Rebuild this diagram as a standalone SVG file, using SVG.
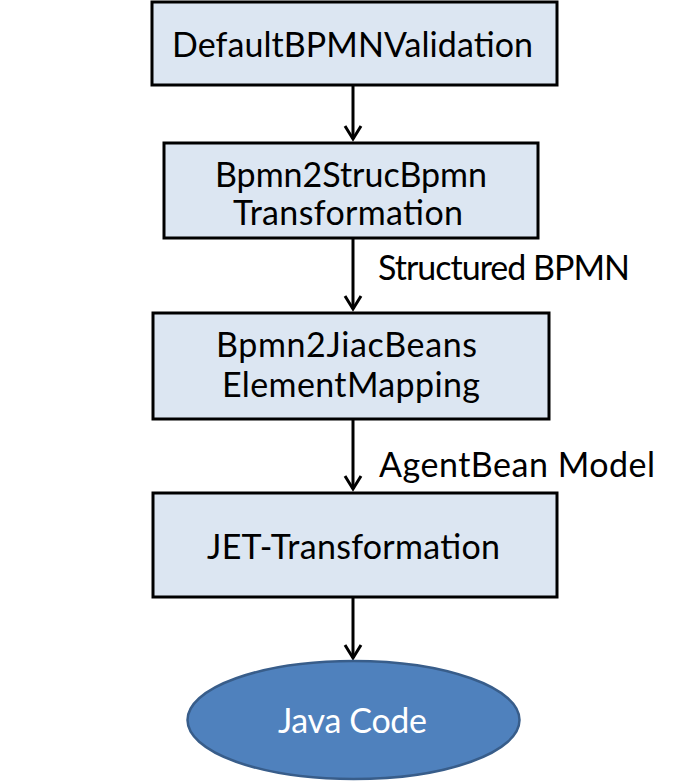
<svg xmlns="http://www.w3.org/2000/svg" width="685" height="782" viewBox="0 0 685 782">
<style>
.box{fill:#dce6f2;stroke:#000;stroke-width:3}
.t{font-family:Lato,"Liberation Sans",sans-serif;font-size:34px;fill:#000;text-anchor:middle}
.lbl{font-family:Lato,"Liberation Sans",sans-serif;font-size:34px;fill:#000}
.conn{stroke:#000;stroke-width:3;fill:none}
</style>
<rect width="685" height="782" fill="#fff"/>
<g id="connectors">
<line class="conn" x1="353" y1="85" x2="353" y2="139"/>
<polyline class="conn" points="345,126 353,139 361,126"/>
<line class="conn" x1="353" y1="238" x2="353" y2="309"/>
<polyline class="conn" points="345,296 353,309 361,296"/>
<line class="conn" x1="353" y1="419" x2="353" y2="489"/>
<polyline class="conn" points="345,476 353,489 361,476"/>
<line class="conn" x1="353" y1="597" x2="353" y2="658"/>
<polyline class="conn" points="345,645 353,658 361,645"/>
<text class="lbl" x="378" y="280" textLength="252">Structured BPMN</text>
<text class="lbl" x="379" y="477" textLength="276">AgentBean Model</text>
</g>
<g id="n1"><rect class="box" x="152" y="2" width="405" height="83"/><text class="t" x="352.5" y="57" textLength="361">DefaultBPMNValidation</text></g>
<g id="n2"><rect class="box" x="164" y="143" width="374" height="95"/><text class="t" x="351" y="187" textLength="272">Bpmn2StrucBpmn</text><text class="t" x="348" y="225" textLength="230">Transformation</text></g>
<g id="n3"><rect class="box" x="153" y="313" width="396" height="106"/><text class="t" x="346.5" y="357" textLength="261">Bpmn2JiacBeans</text><text class="t" x="351" y="397" textLength="258">ElementMapping</text></g>
<g id="n4"><rect class="box" x="153" y="493" width="404" height="104"/><text class="t" x="353.5" y="559" textLength="293">JET-Transformation</text></g>
<g id="n5"><ellipse cx="353.5" cy="720" rx="166" ry="59" fill="#4f81bd" stroke="#385d8a" stroke-width="2.5"/><text class="t" x="352.5" y="733" textLength="149" style="fill:#fff">Java Code</text></g>
</svg>
